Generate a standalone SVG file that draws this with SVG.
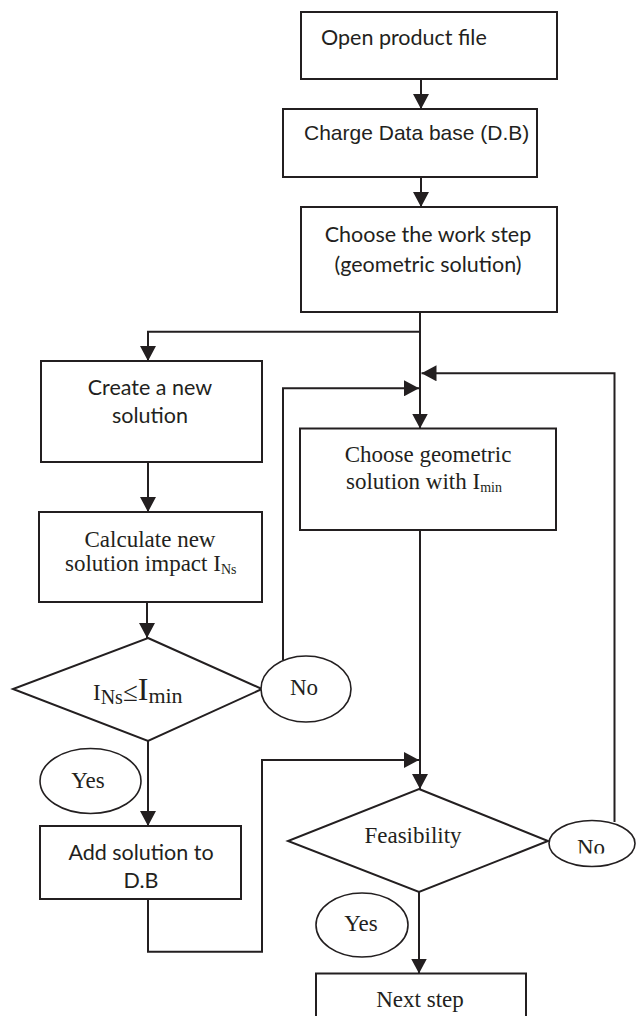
<svg xmlns="http://www.w3.org/2000/svg" width="636" height="1016" viewBox="0 0 636 1016">
  <style>
    .box { fill: #ffffff; stroke: #231f20; stroke-width: 2; }
    .oval { fill: #ffffff; stroke: #231f20; stroke-width: 1.6; }
    .link { fill: none; stroke: #231f20; stroke-width: 2; }
    .sans { font-family: Lato, "Open Sans", sans-serif; font-size: 21.5px; fill: #231f20; }
    .arial { font-family: "Liberation Sans", Arial, sans-serif; font-size: 21px; fill: #231f20; }
    .serif { font-family: "Liberation Serif", "Times New Roman", serif; font-size: 23px; fill: #231f20; }
    .mid { text-anchor: middle; }
  </style>
  <defs>
    <marker id="arrow" viewBox="0 0 15 16" refX="15" refY="8" markerWidth="15" markerHeight="16" markerUnits="userSpaceOnUse" orient="auto">
      <path d="M0,0 L15,8 L0,16 Z" fill="#231f20"/>
    </marker>
    <clipPath id="noClip">
      <rect x="540" y="810" width="96" height="43.5"/>
    </clipPath>
  </defs>
  <rect width="636" height="1016" fill="#ffffff"/>

  <!-- connectors -->
  <g id="connectors">
    <path class="link" d="M421,79 V109" marker-end="url(#arrow)"/>
    <path class="link" d="M421,177 V207" marker-end="url(#arrow)"/>
    <path class="link" d="M420,312 V428.5" marker-end="url(#arrow)"/>
    <path class="link" d="M420,331.7 H148 V361" marker-end="url(#arrow)"/>
    <path class="link" d="M148,462 V512" marker-end="url(#arrow)"/>
    <path class="link" d="M147,602 V638" marker-end="url(#arrow)"/>
    <path class="link" d="M283,660 V388.3 H419" marker-end="url(#arrow)"/>
    <path class="link" d="M420,530 V789" marker-end="url(#arrow)"/>
    <path class="link" d="M148,741 V826" marker-end="url(#arrow)"/>
    <path class="link" d="M148,899 V951.7 H262 V760 H419" marker-end="url(#arrow)"/>
    <path class="link" d="M614.5,822 V373.3 H421.5" marker-end="url(#arrow)"/>
    <path class="link" d="M419,892 V973.5" marker-end="url(#arrow)"/>
  </g>

  <g id="open-file">
    <rect class="box" x="301" y="12" width="256" height="67"/>
    <text class="sans" x="321" y="45">Open product file</text>
  </g>

  <g id="charge-db">
    <rect class="box" x="283" y="109" width="254" height="68"/>
    <text class="arial" x="304" y="140">Charge Data base (D.B)</text>
  </g>

  <g id="work-step">
    <rect class="box" x="301" y="207" width="256" height="105"/>
    <text class="sans mid" x="428" y="242">Choose the work step</text>
    <text class="sans mid" x="428" y="272">(geometric solution)</text>
  </g>

  <g id="create-solution">
    <rect class="box" x="41" y="361" width="221" height="101"/>
    <text class="sans mid" x="150" y="395">Create a new</text>
    <text class="sans mid" x="150" y="423">solution</text>
  </g>

  <g id="calculate-impact">
    <rect class="box" x="39" y="512" width="223" height="90"/>
    <text class="serif mid" x="150" y="547">Calculate new</text>
    <text class="serif" x="65" y="571">solution impact I<tspan font-size="14" dy="3">Ns</tspan></text>
  </g>

  <g id="choose-geometric">
    <rect class="box" x="300" y="428.5" width="256" height="101.5"/>
    <text class="serif mid" x="428" y="462">Choose geometric</text>
    <text class="serif" x="346" y="488.5">solution with I<tspan font-size="14" dy="3">min</tspan></text>
  </g>

  <g id="impact-test">
    <polygon class="box" points="148,638 262,689 148,741 13,689"/>
    <text class="serif" x="93" y="700" font-size="32">I<tspan font-size="20" dy="4">Ns</tspan><tspan font-size="27" dy="-3">≤</tspan><tspan font-size="32" dy="-1">I</tspan><tspan font-size="22" dy="3">min</tspan></text>
  </g>

  <g id="no-impact">
    <ellipse class="oval" cx="306" cy="689" rx="45" ry="33"/>
    <text class="serif mid" x="304" y="695">No</text>
  </g>

  <g id="yes-impact">
    <ellipse class="oval" cx="90.5" cy="781" rx="50.5" ry="32.5"/>
    <text class="serif mid" x="88" y="788">Yes</text>
  </g>

  <g id="add-solution">
    <rect class="box" x="40" y="826" width="201" height="73"/>
    <text class="sans mid" x="141" y="860">Add solution to</text>
    <text class="sans mid" x="141" y="888">D.B</text>
  </g>

  <g id="feasibility">
    <polygon class="box" points="419,789 548,841 419,892 288,841"/>
    <text class="serif mid" x="413" y="843">Feasibility</text>
  </g>

  <g id="no-feasible">
    <ellipse class="oval" cx="592" cy="843.5" rx="43" ry="23"/>
    <text class="serif mid" x="591" y="855" clip-path="url(#noClip)">No</text>
  </g>

  <g id="yes-feasible">
    <ellipse class="oval" cx="362" cy="925" rx="46" ry="32"/>
    <text class="serif mid" x="361" y="931">Yes</text>
  </g>

  <g id="next-step">
    <rect class="box" x="316" y="973.5" width="210" height="60"/>
    <text class="serif mid" x="420" y="1007">Next step</text>
  </g>
</svg>
